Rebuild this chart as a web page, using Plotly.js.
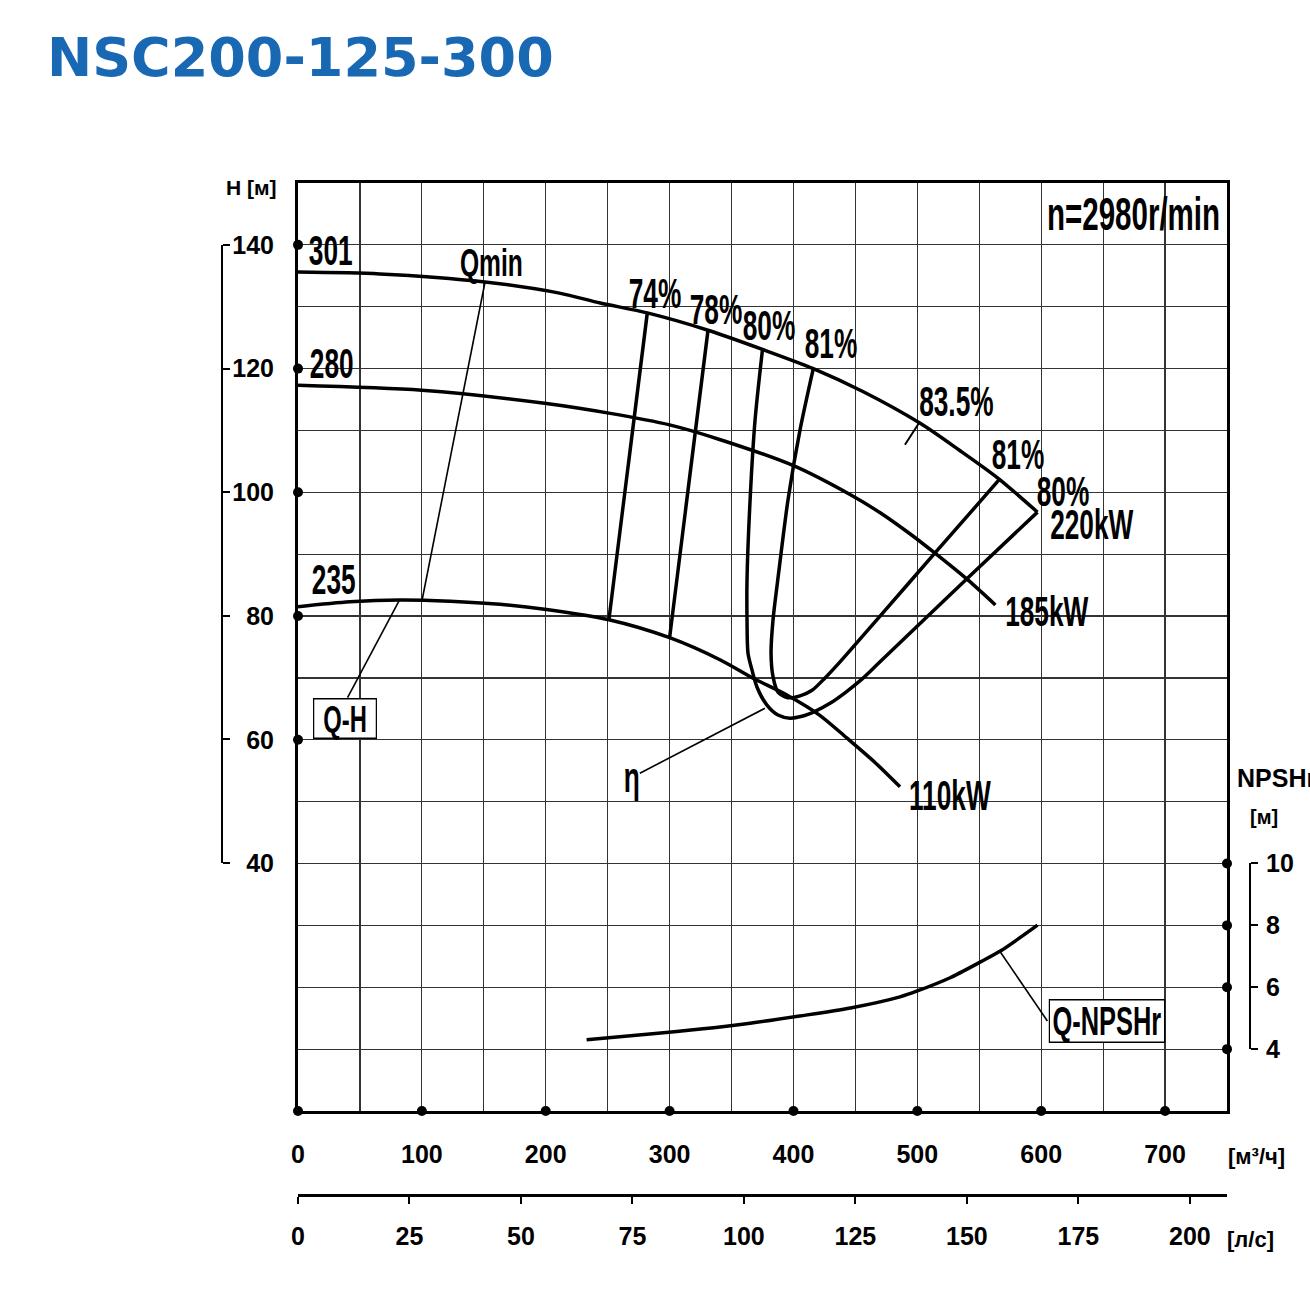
<!DOCTYPE html>
<html><head><meta charset="utf-8">
<script src="https://cdn.plot.ly/plotly-3.0.1.min.js"></script>
<style>body{margin:0;background:#fff}</style>
</head><body>
<div id="chart" style="width:1310px;height:1295px"></div>
<script>
// ---------- DATA (Q in m3/h, H in m, NPSHr in m) ----------
const qD301 = [0, 66, 151, 211, 244, 282, 331, 375, 416, 456, 502, 534, 565, 597];
const hD301 = [135.6, 135.3, 134.0, 132.2, 130.6, 129.0, 126.2, 123.1, 120.0, 116.3, 111.2, 106.8, 102.3, 96.8];
const qD280 = [0, 100, 199, 251, 300, 341, 400, 446, 470, 494, 514, 541, 563];
const hD280 = [117.3, 116.5, 114.4, 112.8, 110.9, 108.5, 104.3, 99.6, 96.7, 93.3, 90.2, 85.8, 81.8];
const qD235 = [0, 42, 82, 123, 163, 199, 251, 300, 341, 367, 395, 421, 443, 466, 486];
const hD235 = [81.5, 82.3, 82.6, 82.4, 81.9, 81.1, 79.4, 76.5, 72.9, 70.0, 67.2, 64.0, 60.3, 56.3, 52.4];

const qEta74 = [282, 251];
const hEta74 = [129.0, 79.4];
const qEta78 = [331, 300];
const hEta78 = [126.2, 76.5];
const qEta80 = [375, 369, 365, 362.5, 362.5, 363.3, 366.5, 370.6, 378.6, 387.5, 397.2, 406.9, 417.4, 429.5, 441.6, 455.3, 469.9, 540.9, 597];
const hEta80 = [123.1, 111.7, 98.8, 85.8, 79.4, 74.0, 71.3, 68.5, 65.6, 64.0, 63.5, 63.8, 64.6, 65.9, 67.6, 69.8, 72.6, 86.2, 96.8];
const qEta81 = [416, 405.3, 395.6, 388.3, 383.5, 381.9, 383.5, 387.5, 395.6, 405.3, 415.0, 425.5, 437.6, 469.9, 514.3, 565.9];
const hEta81 = [120.0, 110.1, 98.8, 87.4, 79.4, 74.0, 70.2, 67.7, 66.8, 67.1, 68.0, 70.0, 72.6, 80.0, 90.2, 102.0];
const qEta835 = [490, 502];
const hEta835 = [107.7, 111.4];

const qQmin = [151, 100];
const hQmin = [134.0, 82.4];

const qNpsh = [233, 284, 325, 365, 405, 446, 486, 500, 526, 551, 567, 597];
const npshR = [4.30, 4.49, 4.65, 4.84, 5.07, 5.33, 5.69, 5.88, 6.30, 6.82, 7.17, 8.01];

const qLeadQH = [82, 40];
const hLeadQH = [82.6, 66.8];
const qLeadEta = [377, 276];
const hLeadEta = [65.1, 54.6];
const qLeadNpsh = [567, 605];
const nLeadNpsh = [7.14, 4.91];

const qTicks = [0, 100, 200, 300, 400, 500, 600, 700];
const lsTicks = [0, 25, 50, 75, 100, 125, 150, 175, 200];
const hTicks = [40, 60, 80, 100, 120, 140];
const hDots = [60, 80, 100, 120, 140];
const npshTicks = [4, 6, 8, 10];

// ---------- LAYOUT HELPERS ----------
const W = 1310, HT = 1295;
const fx = p => p / W;
const fy = p => 1 - p / HT;
const BLACK = '#000';
const GRID = '#333';
const tickFont = {family: 'Liberation Sans', size: 25, color: BLACK, weight: 'bold'};
const lblFont = (s) => ({family: 'Liberation Sans', size: s || 32, color: BLACK, weight: 'bold'});
const unitFont = (s) => ({family: 'Liberation Sans', size: s || 20, color: BLACK, weight: 'bold'});

const thick = {color: BLACK, width: 3.5};
const thin = {color: BLACK, width: 1.6};
function line(x, y, ln, opts) {
  return Object.assign({x: x, y: y, mode: 'lines', line: ln, hoverinfo: 'skip', showlegend: false}, opts || {});
}
const sp = (o) => Object.assign({shape: 'spline', smoothing: 0.8}, o);

const traces = [
  line(qD301, hD301, sp(thick)),
  line(qD280, hD280, sp(thick)),
  line(qD235, hD235, sp(thick)),
  line(qEta74, hEta74, thick),
  line(qEta78, hEta78, thick),
  line(qEta80, hEta80, sp(thick)),
  line(qEta81, hEta81, sp(thick)),
  line(qEta835, hEta835, {color: BLACK, width: 2}),
  line(qQmin, hQmin, thin),
  line(qLeadQH, hLeadQH, thin),
  line(qLeadEta, hLeadEta, thin),
  line(qNpsh, npshR, sp(thick), {yaxis: 'y2'}),
  line(qLeadNpsh, nLeadNpsh, thin, {yaxis: 'y2'}),
  {x: hDots.map(() => 0), y: hDots, mode: 'markers', marker: {size: 10, color: BLACK}, cliponaxis: false, hoverinfo: 'skip', showlegend: false},
  {x: qTicks, y: qTicks.map(() => 0), mode: 'markers', marker: {size: 10, color: BLACK}, cliponaxis: false, hoverinfo: 'skip', showlegend: false},
  {x: npshTicks.map(() => 750), y: npshTicks, yaxis: 'y2', mode: 'markers', marker: {size: 10, color: BLACK}, cliponaxis: false, hoverinfo: 'skip', showlegend: false},
  // carriers for the auxiliary axes
  {x: [0], y: [40], xaxis: 'x2', yaxis: 'y3', mode: 'markers', marker: {opacity: 0}, hoverinfo: 'skip', showlegend: false},
  {x: [0], y: [4], xaxis: 'x2', yaxis: 'y4', mode: 'markers', marker: {opacity: 0}, hoverinfo: 'skip', showlegend: false}
];

function lab(text, x, y, size, extra) {
  return Object.assign({text: text, x: x, y: y, xref: 'x', yref: 'y', showarrow: false, font: lblFont(size), xanchor: 'center', yanchor: 'middle'}, extra || {});
}
const NB = '\u00a0';
const stretched = [
  lab('301', 26.6, 139.0),
  lab('280', 27.4, 120.8),
  lab('235', 28.3, 85.8),
  lab('Qmin', 156.6, 137.2, 30),
  lab('74%', 288.2, 132.1),
  lab('78%', 337.5, 129.5),
  lab('80%', 380.3, 126.9),
  lab('81%', 430.3, 124.0),
  lab('83.5%', 532.0, 114.6),
  lab('81%', 581.3, 106.0),
  lab('80%', 617.6, 100.1),
  lab('220kW', 641.0, 94.7),
  lab('185kW', 604.7, 80.7),
  lab('110kW', 526.4, 50.9),
  lab('η', 269.6, 53.8),
  lab(NB + 'Q-H' + NB, 37.9, 63.4, 29, {bordercolor: BLACK, borderwidth: 1.5, borderpad: 3, bgcolor: '#fff'}),
  lab('Q-NPSHr', 653.1, 14.5, 31, {bordercolor: BLACK, borderwidth: 1.5, borderpad: 3, bgcolor: '#fff'}),
  lab('n=2980r/min', 674.9, 145.1, 36)
];
function plab(text, px, py, size, xanchor) {
  return {text: text, x: fx(px), y: fy(py), xref: 'paper', yref: 'paper', showarrow: false, font: unitFont(size), xanchor: xanchor || 'center', yanchor: 'middle'};
}
const plain = [
  plab('H [м]', 251, 187, 21),
  plab('[м³/ч]', 1256, 1156, 22),
  plab('[л/с]', 1250, 1239, 22),
  plab('NPSHr', 1235, 778, 25, 'left'),
  plab('[м]', 1264, 817, 20)
];

const layout = {
  width: W, height: HT,
  margin: {l: 0, r: 0, t: 0, b: 0},
  paper_bgcolor: '#fff', plot_bgcolor: 'rgba(0,0,0,0)',
  showlegend: false,
  title: {text: 'NSC200-125-300', font: {family: 'DejaVu Sans', size: 54, color: '#1868b4', weight: 'bold'},
          x: fx(47), xanchor: 'left', xref: 'paper', y: fy(57), yanchor: 'middle', yref: 'paper'},
  xaxis: {domain: [fx(298), fx(1227)], range: [0, 750], tickvals: qTicks, ticktext: qTicks.map(String),
          showgrid: true, gridcolor: GRID, gridwidth: 1.2,
          minor: {dtick: 50, tick0: 0, showgrid: true, gridcolor: GRID, gridwidth: 1.2, ticks: ''},
          showline: true, mirror: true, linewidth: 3, linecolor: BLACK, ticks: '', tickfont: tickFont,
          ticklabelstandoff: 19, zeroline: false, fixedrange: true},
  yaxis: {domain: [fy(1111), fy(183)], range: [0, 150], tickvals: hTicks, ticktext: hTicks.map(String),
          showgrid: true, gridcolor: GRID, gridwidth: 1.2,
          minor: {dtick: 10, tick0: 0, showgrid: true, gridcolor: GRID, gridwidth: 1.2, ticks: ''},
          showline: true, mirror: true, linewidth: 3, linecolor: BLACK, ticks: '', tickfont: tickFont,
          ticklabelstandoff: 16, zeroline: false, fixedrange: true},
  yaxis2: {overlaying: 'y', range: [2, 32], visible: false, fixedrange: true},
  xaxis2: {domain: [fx(298), fx(1227)], range: [0, 750 / 3.6], anchor: 'free', position: fy(1195),
           tickvals: lsTicks, ticktext: lsTicks.map(String), ticks: 'outside', ticklen: 7, tickwidth: 2, tickcolor: BLACK,
           showline: true, linewidth: 3, linecolor: BLACK, showgrid: false, zeroline: false, tickfont: tickFont,
           ticklabelstandoff: 11, fixedrange: true},
  yaxis3: {domain: [fy(863), fy(245)], range: [40, 140], anchor: 'free', position: fx(222), side: 'right',
           tickvals: hTicks, ticks: 'outside', ticklen: 7, tickwidth: 2, tickcolor: BLACK,
           showline: true, linewidth: 2, linecolor: BLACK, showticklabels: false, showgrid: false, zeroline: false, fixedrange: true},
  yaxis4: {domain: [fy(1049), fy(863)], range: [4, 10], anchor: 'free', position: fx(1250), side: 'right',
           tickvals: npshTicks, ticktext: npshTicks.map(String), ticks: 'outside', ticklen: 7, tickwidth: 2, tickcolor: BLACK,
           showline: true, linewidth: 2, linecolor: BLACK, showgrid: false, zeroline: false, tickfont: tickFont,
           ticklabelstandoff: 3, fixedrange: true},
  annotations: stretched.concat(plain)
};

function squeeze(el, sx, sy) {
  el.style.transformBox = 'fill-box';
  el.style.transformOrigin = 'center';
  el.style.transform = 'scale(' + sx + ',' + sy + ')';
}
Plotly.newPlot('chart', traces, layout, {staticPlot: true}).then(function () {
  const n = stretched.length;
  document.querySelectorAll('g.annotation').forEach(function (g) {
    const i = +g.getAttribute('data-index');
    if (i < n) {
      const t = g.querySelector('text.annotation-text');
      if (t) squeeze(t, 0.82, 1.3);
      if (stretched[i].borderwidth) {
        const r = g.querySelector('rect.bg');
        if (r) squeeze(r, 0.82, 1);
      }
    }
  });
});
</script>
</body></html>
